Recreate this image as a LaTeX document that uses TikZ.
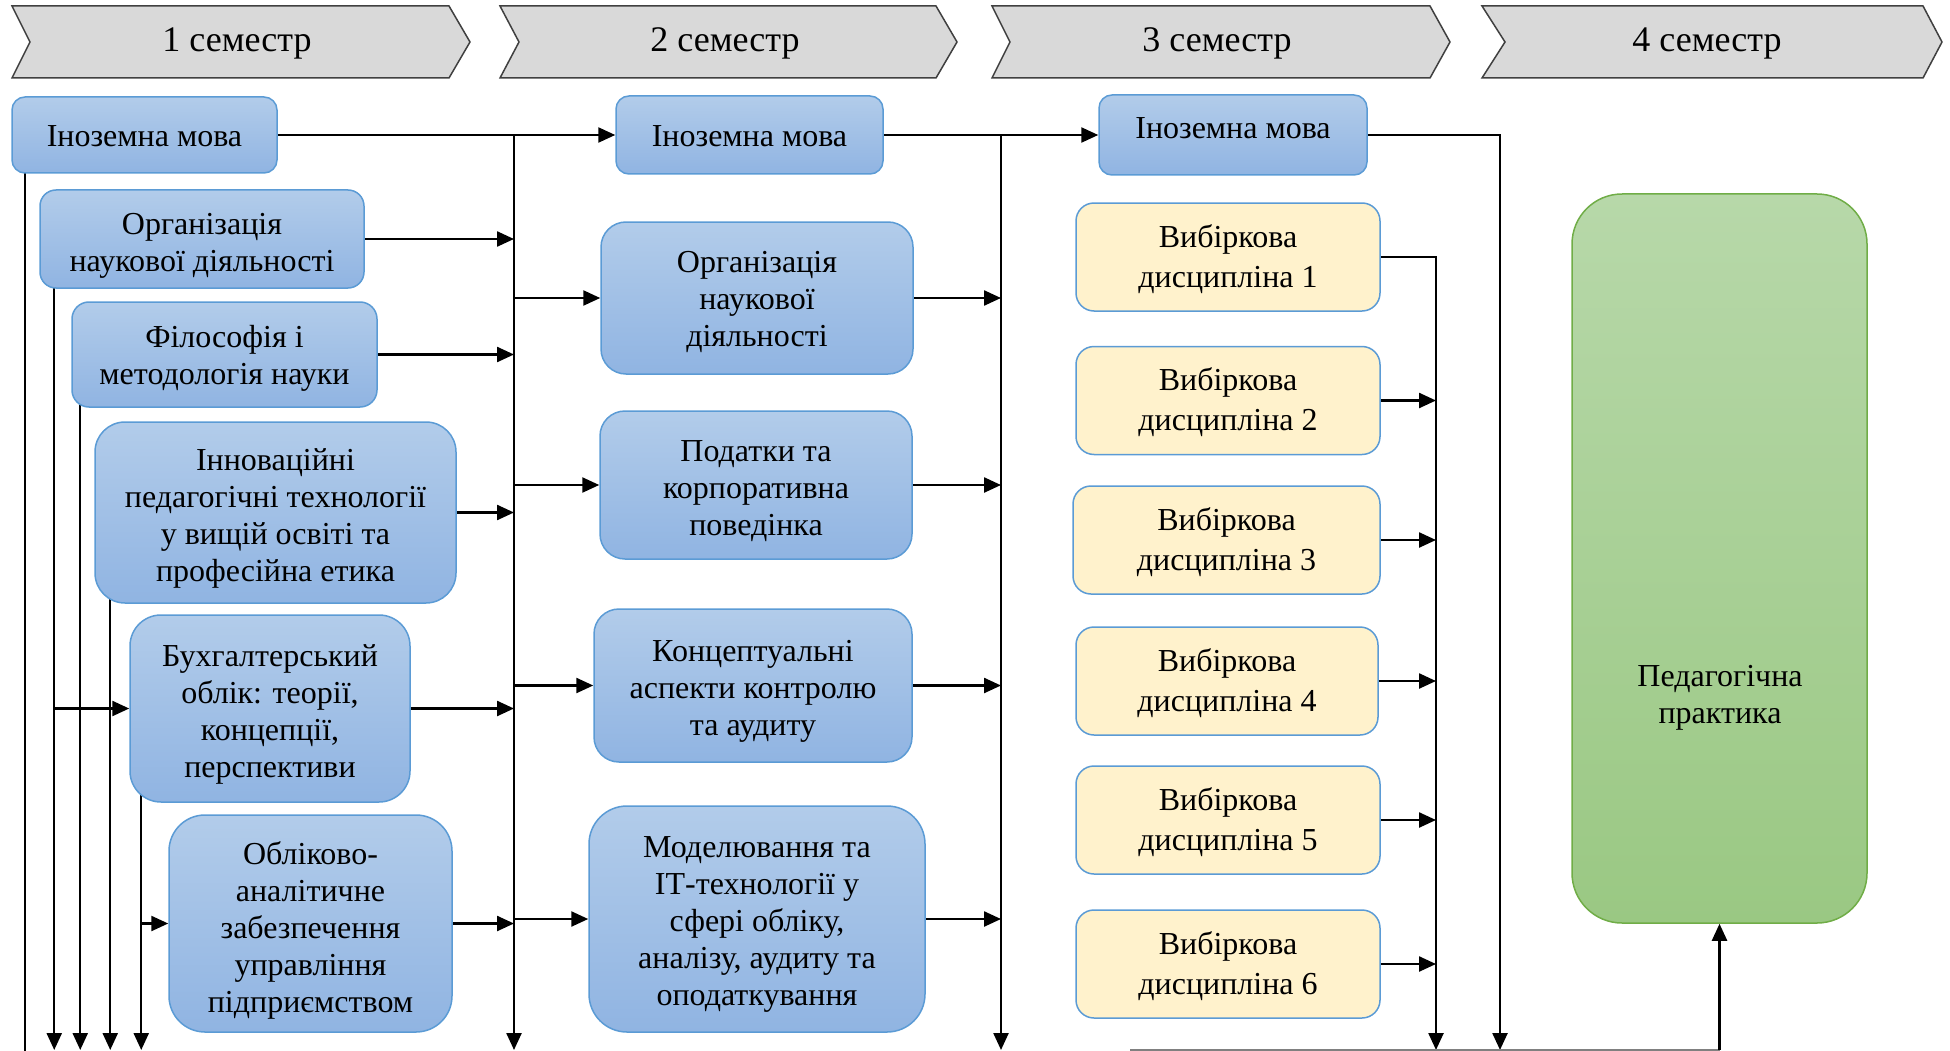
\documentclass[tikz,border=0pt]{standalone}
\usepackage{fontspec}
\setmainfont{Liberation Serif}
\usetikzlibrary{arrows.meta}
\pgfdeclarelayer{bg}
\pgfsetlayers{bg,main}
\definecolor{bborder}{HTML}{5B9BD5}
\definecolor{btop}{HTML}{B2CCEA}
\definecolor{bbot}{HTML}{90B4E2}
\definecolor{gtop}{HTML}{B7D8A9}
\definecolor{gbot}{HTML}{9AC883}
\definecolor{gborder}{HTML}{70AD47}
\definecolor{ylw}{HTML}{FFF2CC}
\definecolor{chevfill}{HTML}{D9D9D9}
\definecolor{chevdraw}{HTML}{404040}
\tikzset{
  txt/.style={font=\fontsize{32}{37}\selectfont, align=center, inner sep=0pt},
  ytxt/.style={font=\fontsize{32}{40}\selectfont, align=center, inner sep=0pt},
  bx/.style={draw=bborder, line width=1.5pt, top color=btop, bottom color=bbot, inner sep=0pt},
  yb/.style={draw=bborder, line width=1.5pt, fill=ylw, inner sep=0pt, rounded corners=18pt, minimum width=304pt, minimum height=108pt},
  gb/.style={draw=gborder, line width=1.5pt, top color=gtop, bottom color=gbot, inner sep=0pt},
  chev/.style={fill=chevfill, draw=chevdraw, line width=1.5pt, line join=miter},
  semtxt/.style={font=\fontsize{36}{40}\selectfont, anchor=base},
  ln/.style={line width=2.4pt},
  arr/.style={line width=2.4pt, -{Triangle[length=17pt,width=15pt]}},
}
\begin{document}
\begin{tikzpicture}[x=1pt,y=-1pt]
\useasboundingbox (0,0) rectangle (1950,1051);
% semester chevrons
\path[chev] (12,6) -- (449,6) -- (470,42) -- (449,78) -- (12,78) -- (30,42) -- cycle;
\path[chev] (500,6) -- (936,6) -- (957,42) -- (936,78) -- (500,78) -- (519,42) -- cycle;
\path[chev] (992,6) -- (1430,6) -- (1450,42) -- (1430,78) -- (992,78) -- (1010,42) -- cycle;
\path[chev] (1482,6) -- (1923,6) -- (1942,42) -- (1923,78) -- (1482,78) -- (1505,42) -- cycle;
\node[semtxt] (s1) at (237,52) {1 семестр};
\node[semtxt] (s2) at (725,52) {2 семестр};
\node[semtxt] (s3) at (1217,52) {3 семестр};
\node[semtxt] (s4) at (1707,52) {4 семестр};
% column 1
\node[bx, minimum width=265pt, minimum height=76pt, rounded corners=13pt] (B1) at (144.5,135) {};
\node[bx, minimum width=324pt, minimum height=98pt, rounded corners=16pt] (B2) at (202,239) {};
\node[bx, minimum width=305pt, minimum height=105pt, rounded corners=17pt] (B3) at (224.5,354.5) {};
\node[bx, minimum width=361pt, minimum height=181pt, rounded corners=30pt] (B4) at (275.5,512.5) {};
\node[bx, minimum width=280pt, minimum height=187pt, rounded corners=31pt] (B5) at (270,708.5) {};
\node[bx, minimum width=283pt, minimum height=217pt, rounded corners=36pt] (B6) at (310.5,923.5) {};
\node[txt] (B1t) at ([yshift=-1pt]B1.center) {Іноземна мова};
\node[txt] (B2t) at ([yshift=-7pt]B2.center) {Організація\\наукової діяльності};
\node[txt] (B3t) at ([yshift=-4pt]B3.center) {Філософія і\\методологія науки};
\node[txt] (B4t) at ([yshift=-6pt]B4.center) {Інноваційні\\педагогічні технології\\у вищій освіті та\\професійна етика};
\node[txt] (B5t) at ([yshift=-6pt]B5.center) {Бухгалтерський\\облік: теорії,\\концепції,\\перспективи};
\node[txt] (B6t) at ([yshift=-7pt]B6.center) {Обліково-\\аналітичне\\забезпечення\\управління\\підприємством};
% column 2
\node[bx, minimum width=267pt, minimum height=78pt, rounded corners=13pt] (D1) at (749.5,135) {};
\node[bx, minimum width=312pt, minimum height=152pt, rounded corners=25pt] (D2) at (757,298) {};
\node[bx, minimum width=312pt, minimum height=148pt, rounded corners=25pt] (D3) at (756,485) {};
\node[bx, minimum width=318pt, minimum height=153pt, rounded corners=25pt] (D4) at (753,685.5) {};
\node[bx, minimum width=336pt, minimum height=226pt, rounded corners=38pt] (D5) at (757,919) {};
\node[txt] (D1t) at ([yshift=-1pt]D1.center) {Іноземна мова};
\node[txt] (D2t) at ([yshift=-4pt]D2.center) {Організація\\наукової\\діяльності};
\node[txt] (D3t) at ([yshift=-6pt]D3.center) {Податки та\\корпоративна\\поведінка};
\node[txt] (D4t) at ([yshift=-6pt]D4.center) {Концептуальні\\аспекти контролю\\та аудиту};
\node[txt] (D5t) at ([yshift=-5pt]D5.center) {Моделювання та\\ІТ-технології у\\сфері обліку,\\аналізу, аудиту та\\оподаткування};
% column 3
\node[bx, minimum width=268pt, minimum height=80pt, rounded corners=13pt] (E1) at (1233,135) {};
\node[yb] (E2) at (1228,257) {};
\node[yb] (E3) at (1228,400.5) {};
\node[yb, minimum width=307pt] (E4) at (1226.5,540) {};
\node[yb, minimum width=302pt] (E5) at (1227,681) {};
\node[yb] (E6) at (1228,820) {};
\node[yb] (E7) at (1228,964) {};
\node[txt] (E1t) at ([yshift=7pt]E1.center) {Іноземна мова};
\node[ytxt] (E2t) at ([yshift=-2pt]E2.center) {Вибіркова\\дисципліна 1};
\node[ytxt] (E3t) at ([yshift=-2pt]E3.center) {Вибіркова\\дисципліна 2};
\node[ytxt] (E4t) at ([yshift=-2pt]E4.center) {Вибіркова\\дисципліна 3};
\node[ytxt] (E5t) at ([yshift=-2pt]E5.center) {Вибіркова\\дисципліна 4};
\node[ytxt] (E6t) at ([yshift=-2pt]E6.center) {Вибіркова\\дисципліна 5};
\node[ytxt] (E7t) at ([yshift=-2pt]E7.center) {Вибіркова\\дисципліна 6};
% column 4
\node[gb, minimum width=295pt, minimum height=729pt, rounded corners=50pt] (P) at (1719.5,558.5) {};
\node[txt] (Pt) at (1720,698) {Педагогічна\\практика};
% coordinates
\coordinate (bot) at (0,1050);
\coordinate (edge) at (0,1052);
\coordinate (bus1) at (514,0);
\coordinate (bus2) at (1001,0);
\coordinate (bus3) at (1436,0);
\coordinate (bus4) at (1500,0);
\coordinate (gl) at (1130,1050);
\coordinate (pb) at (1719.5,1050);
\begin{pgfonlayer}{bg}
% column 1 verticals
\draw[ln] (B1.south west) ++(14,-10) coordinate (d1) -- (d1 |- edge);
\draw[arr] (B2.south west) ++(15,-10) coordinate (d2) -- (d2 |- bot);
\draw[arr] (B3.south west) ++(9,-10) coordinate (d3) -- (d3 |- bot);
\draw[arr] (B4.south west) ++(16,-10) coordinate (d4) -- (d4 |- bot);
\draw[arr] (B5.south west) ++(12,-10) coordinate (d5) -- (d5 |- bot);
\draw[arr] (d2 |- B5.west) -- (B5.west);
\draw[arr] (d5 |- B6.west) -- (B6.west);
% column 1 to bus 1
\draw[arr] (B1.east) -- (D1.west);
\draw[arr] (B1.east -| bus1) -- (bus1 |- bot);
\draw[arr] (B2.east) -- (B2.east -| bus1);
\draw[arr] (B3.east) -- (B3.east -| bus1);
\draw[arr] (B4.east) -- (B4.east -| bus1);
\draw[arr] (B5.east) -- (B5.east -| bus1);
\draw[arr] (B6.east) -- (B6.east -| bus1);
% bus 1 to column 2
\draw[arr] (D2.west -| bus1) -- (D2.west);
\draw[arr] (D3.west -| bus1) -- (D3.west);
\draw[arr] (D4.west -| bus1) -- (D4.west);
\draw[arr] (D5.west -| bus1) -- (D5.west);
% column 2 to bus 2
\draw[arr] (D1.east) -- (E1.west);
\draw[arr] (D1.east -| bus2) -- (bus2 |- bot);
\draw[arr] (D2.east) -- (D2.east -| bus2);
\draw[arr] (D3.east) -- (D3.east -| bus2);
\draw[arr] (D4.east) -- (D4.east -| bus2);
\draw[arr] (D5.east) -- (D5.east -| bus2);
% column 3
\draw[arr] (E1.east) -| (bus4 |- bot);
\draw[arr] (E2.east) -| (bus3 |- bot);
\draw[arr] (E3.east) -- (E3.east -| bus3);
\draw[arr] (E4.east) -- (E4.east -| bus3);
\draw[arr] (E5.east) -- (E5.east -| bus3);
\draw[arr] (E6.east) -- (E6.east -| bus3);
\draw[arr] (E7.east) -- (E7.east -| bus3);
% to practicum
\draw[gray, line width=1.2pt] (gl) -- (pb);
\draw[arr] (pb) -- (P.south);
\end{pgfonlayer}
\end{tikzpicture}
\end{document}
